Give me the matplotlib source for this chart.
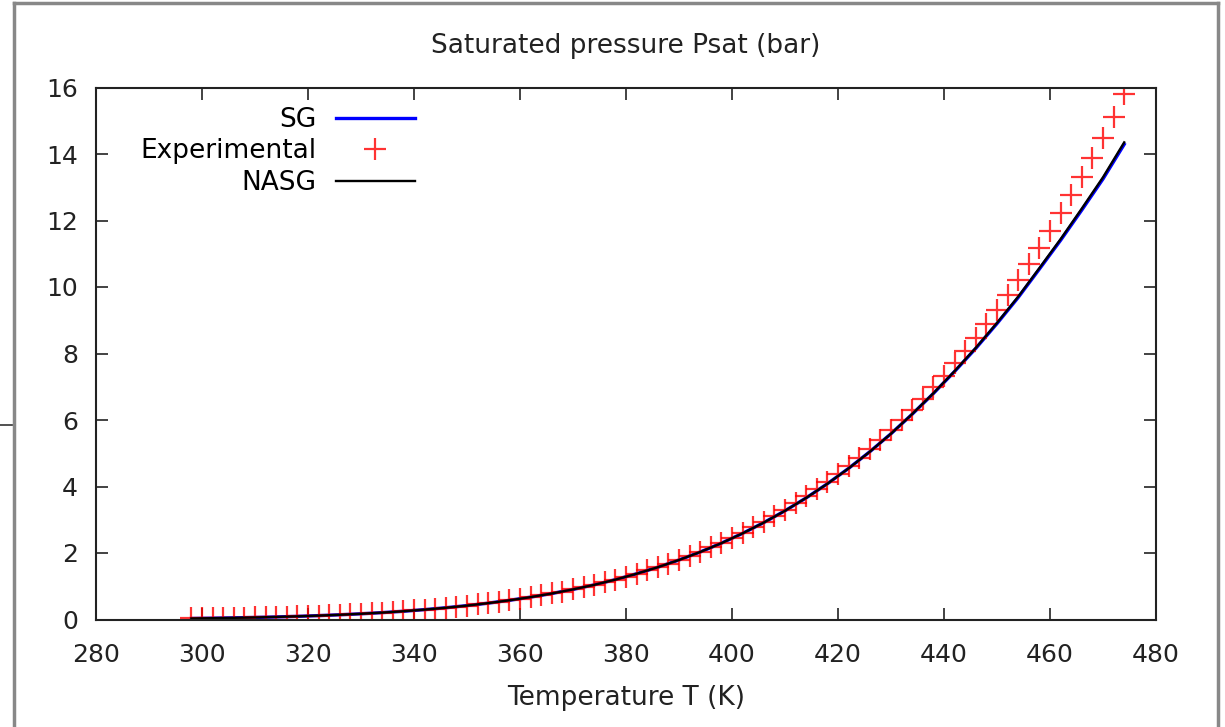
import matplotlib
matplotlib.use("Agg")
import matplotlib.pyplot as plt
from matplotlib.lines import Line2D

# experimental saturation pressure (bar), every 2 K
T_exp = [298, 300, 302, 304, 306, 308, 310, 312, 314, 316, 318, 320, 322, 324,
         326, 328, 330, 332, 334, 336, 338, 340, 342, 344, 346, 348, 350, 352,
         354, 356, 358, 360, 362, 364, 366, 368, 370, 372, 374, 376, 378, 380,
         382, 384, 386, 388, 390, 392, 394, 396, 398, 400, 402, 404, 406, 408,
         410, 412, 414, 416, 418, 420, 422, 424, 426, 428, 430, 432, 434, 436,
         438, 440, 442, 444, 446, 448, 450, 452, 454, 456, 458, 460, 462, 464,
         466, 468, 470, 472, 474]
P_exp = [0.031, 0.035, 0.040, 0.044, 0.050, 0.056, 0.062, 0.069, 0.077, 0.086,
         0.095, 0.105, 0.117, 0.129, 0.142, 0.157, 0.172, 0.189, 0.207, 0.227,
         0.248, 0.272, 0.297, 0.324, 0.353, 0.384, 0.418, 0.454, 0.492, 0.533,
         0.577, 0.624, 0.673, 0.726, 0.782, 0.841, 0.905, 0.971, 1.042, 1.117,
         1.202, 1.288, 1.379, 1.475, 1.576, 1.682, 1.797, 1.914, 2.040, 2.172,
         2.310, 2.455, 2.610, 2.770, 2.940, 3.118, 3.303, 3.498, 3.702, 3.915,
         4.138, 4.371, 4.614, 4.868, 5.133, 5.411, 5.697, 5.997, 6.312, 6.640,
         6.980, 7.335, 7.702, 8.084, 8.480, 8.891, 9.316, 9.758, 10.215, 10.690,
         11.181, 11.690, 12.214, 12.756, 13.317, 13.893, 14.490, 15.107, 15.815]

# model curves, every 4 K
T_mod = [298, 302, 306, 310, 314, 318, 322, 326, 330, 334, 338, 342, 346, 350,
         354, 358, 362, 366, 370, 374, 378, 382, 386, 390, 394, 398, 402, 406,
         410, 414, 418, 422, 426, 430, 434, 438, 442, 446, 450, 454, 458, 462,
         466, 470, 474]
P_nasg = [0.031, 0.040, 0.050, 0.062, 0.077, 0.095, 0.117, 0.142, 0.172, 0.207,
          0.248, 0.297, 0.353, 0.418, 0.492, 0.577, 0.673, 0.782, 0.905, 1.042,
          1.199, 1.376, 1.572, 1.790, 2.030, 2.296, 2.591, 2.915, 3.270, 3.658,
          4.083, 4.545, 5.046, 5.588, 6.180, 6.805, 7.470, 8.170, 8.920, 9.710,
          10.570, 11.440, 12.360, 13.300, 14.350]
P_sg = [0.031, 0.040, 0.050, 0.062, 0.077, 0.095, 0.117, 0.142, 0.172, 0.207,
        0.248, 0.297, 0.353, 0.418, 0.492, 0.577, 0.673, 0.782, 0.905, 1.042,
        1.199, 1.376, 1.572, 1.790, 2.030, 2.296, 2.591, 2.915, 3.270, 3.658,
        4.083, 4.545, 5.046, 5.588, 6.175, 6.798, 7.460, 8.155, 8.900, 9.685,
        10.540, 11.405, 12.315, 13.250, 14.290]

plt.rcParams['font.family'] = 'DejaVu Sans'
plt.rcParams['font.size'] = 19

fig = plt.figure(figsize=(12.25, 7.27), dpi=100)
ax = fig.add_axes([96 / 1225, 1 - 619.5 / 727, 1060 / 1225, 532 / 727])

ax.plot(T_mod, P_sg, color='#0000ff', lw=2.4, label='SG')
ax.plot(T_exp, P_exp, linestyle='none', marker='+', color='red', ms=16,
        mew=1.6, alpha=0.8, label='Experimental')
ax.plot(T_mod, P_nasg, color='black', lw=1.7, label='NASG')

ax.set_xlim(280, 480)
ax.set_ylim(0, 16)
ax.set_xticks(range(280, 481, 20))
ax.set_yticks(range(0, 17, 2))
ax.tick_params(direction='in', length=8.5, width=1.2, top=True, right=True,
               labelsize=18, colors='#222222')
ax.tick_params(axis='x', pad=17)
ax.tick_params(axis='y', pad=13)
for s in ax.spines.values():
    s.set_linewidth(1.5)
    s.set_color('#222222')

ax.set_title('Saturated pressure Psat (bar)', fontsize=19, pad=25, color='#222222')
ax.set_xlabel('Temperature T (K)', fontsize=19, labelpad=13, color='#222222')

leg = ax.legend(loc='upper right', bbox_to_anchor=(0.301, 0.963), frameon=False,
                markerfirst=False, borderpad=0, borderaxespad=0,
                handlelength=3.0, handletextpad=0.75, labelspacing=0.2,
                fontsize=19)

# gray outer frame of the screenshot
fig.add_artist(Line2D([14 / 1225, 14 / 1225], [0, 1 - 3 / 727], color='#888888', lw=2.5))
fig.add_artist(Line2D([14 / 1225, 1218 / 1225], [1 - 3 / 727, 1 - 3 / 727], color='#888888', lw=2.5))
fig.add_artist(Line2D([1218 / 1225, 1218 / 1225], [0, 1 - 3 / 727], color='#888888', lw=2.5))
fig.add_artist(Line2D([0, 12 / 1225], [1 - 425 / 727, 1 - 425 / 727], color='#333333', lw=1.2))

fig.savefig('out.png', dpi=100)
